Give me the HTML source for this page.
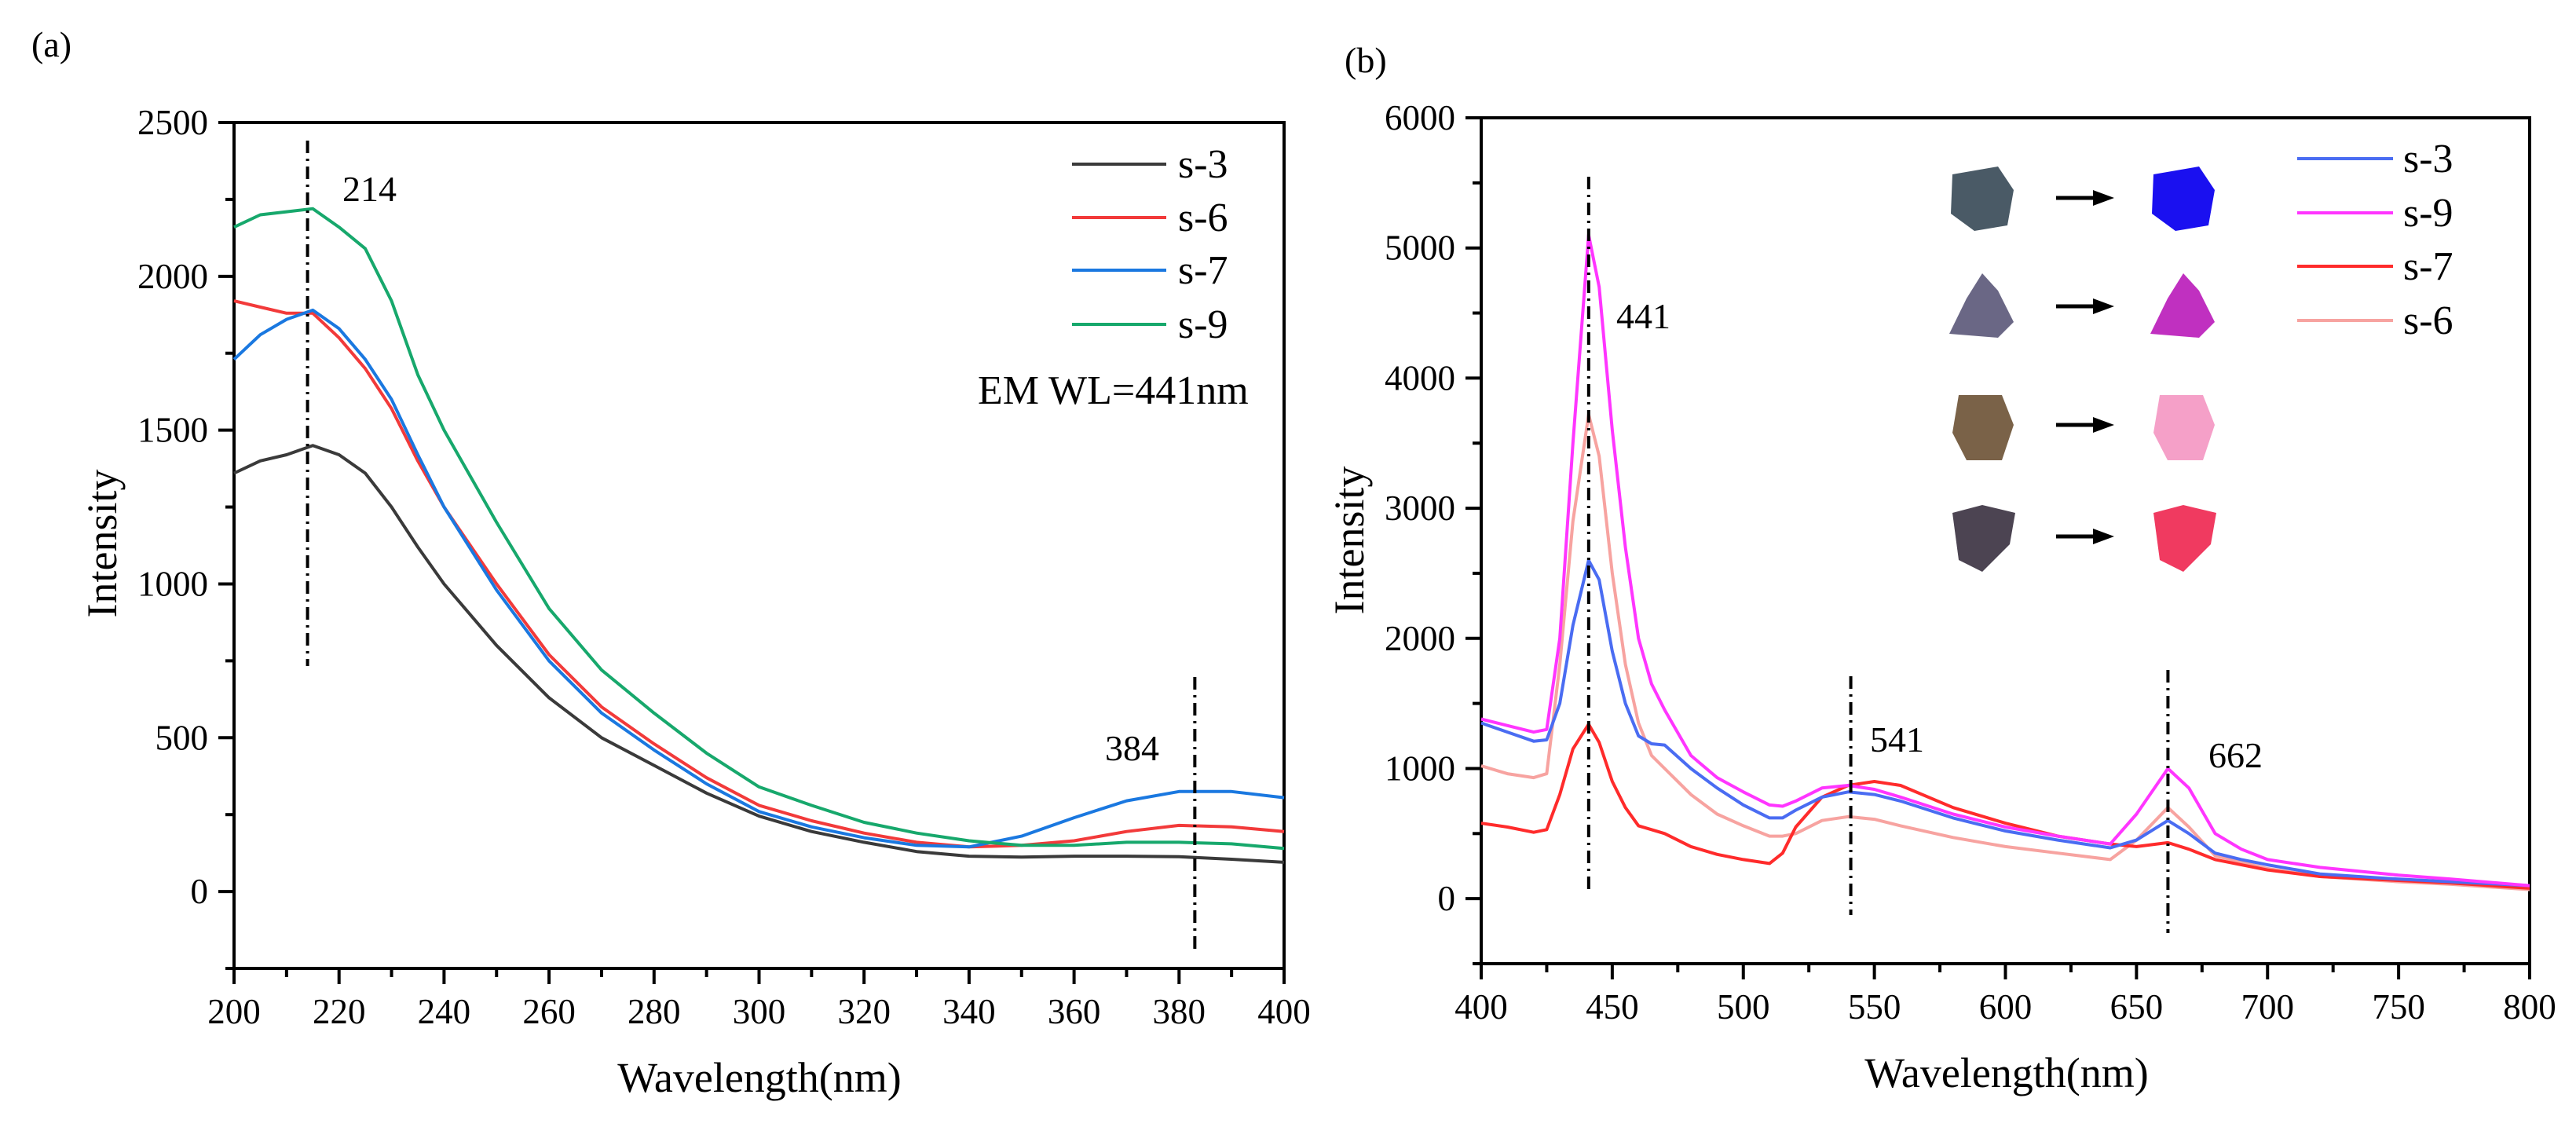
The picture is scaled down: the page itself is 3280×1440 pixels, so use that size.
<!DOCTYPE html>
<html><head><meta charset="utf-8"><style>
html,body{margin:0;padding:0;background:#fff;}
svg{display:block;font-family:"Liberation Serif",serif;}
</style></head><body>
<svg id="fig" width="3280" height="1440" viewBox="0 0 3280 1440" xmlns="http://www.w3.org/2000/svg">
<g id="pa"></g>
<g id="pb"></g>
</svg>
<script>
// Panel (a) data
const aWl = [200,205,210,215,220,225,230,235,240,250,260,270,280,290,300,310,320,330,340,350,360,370,380,390,400];
const aS3 = [1360,1400,1420,1450,1420,1360,1250,1120,1000,800,630,500,410,320,245,195,160,130,115,112,115,115,113,105,95];
const aS6 = [1920,1900,1880,1880,1800,1700,1570,1400,1250,1000,770,600,480,370,280,230,190,160,145,150,165,195,215,210,195];
const aS7 = [1730,1810,1860,1890,1830,1730,1600,1420,1250,980,750,580,460,350,260,210,175,150,145,180,240,295,325,325,305];
const aS9 = [2160,2200,2210,2220,2160,2090,1920,1680,1500,1200,920,720,580,450,340,280,225,190,165,150,150,160,160,155,140];
const aXTicks = [200,220,240,260,280,300,320,340,360,380,400];
const aYTicks = [0,500,1000,1500,2000,2500];
// Panel (b) data
const bWl = [400,410,420,425,430,435,441,445,450,455,460,465,470,480,490,500,510,515,520,530,540,550,560,580,600,620,640,650,662,670,680,690,700,720,750,770,800];
const bS3 = [1350,1280,1210,1220,1500,2100,2600,2450,1900,1500,1250,1190,1180,1000,850,720,620,620,680,780,820,800,750,620,520,450,390,450,600,500,350,300,260,190,150,130,100];
const bS9 = [1380,1330,1280,1300,2000,3500,5100,4700,3600,2700,2000,1650,1450,1100,930,820,720,710,750,850,870,840,780,650,550,480,420,650,1000,850,500,380,300,240,180,150,100];
const bS7 = [580,550,510,530,800,1150,1340,1200,900,700,560,530,500,400,340,300,270,350,550,780,870,900,870,700,580,480,420,400,430,380,300,260,220,170,140,120,80];
const bS6 = [1020,960,930,960,1800,2900,3720,3400,2500,1800,1350,1100,1000,800,650,560,480,480,500,600,630,610,560,470,400,350,300,450,700,550,330,280,230,170,130,110,70];
const bXTicks = [400,450,500,550,600,650,700,750,800];
const bYTicks = [0,1000,2000,3000,4000,5000,6000];

const NS='http://www.w3.org/2000/svg';
function mk(parent,tag,attrs,text){const e=document.createElementNS(NS,tag);for(const k in attrs)e.setAttribute(k,attrs[k]);if(text!==undefined)e.textContent=text;parent.appendChild(e);return e;}

function axes(g,L,R,T,B,x0,x1,y0,y1,xt,xminor,yt,yminor){
  const sx=v=>L+(v-x0)/(x1-x0)*(R-L);
  const sy=v=>B-(v-y0)/(y1-y0)*(B-T);
  const fr=mk(g,'rect',{x:L,y:T,width:R-L,height:B-T,fill:'none',stroke:'#000','stroke-width':4});
  
  
  for(let v=x0;v<=x1+1e-6;v+=xminor){
    const major=xt.includes(v);
    const t=mk(g,'line',{x1:sx(v),x2:sx(v),y1:B,y2:B+(major?20:11),stroke:'#000','stroke-width':4});
    
    
  }
  xt.forEach(v=>{
    const t=mk(g,'text',{x:sx(v),y:B+70,'font-size':45,'text-anchor':'middle'},String(v));
    
    
  });
  for(let v=y1;v>=y0-1e-6;v-=yminor){
    const major=yt.includes(v);
    const t=mk(g,'line',{x1:L,x2:L-(major?20:11),y1:sy(v),y2:sy(v),stroke:'#000','stroke-width':4});
    
    
  }
  yt.forEach(v=>{
    const t=mk(g,'text',{x:L-33,y:sy(v)+15,'font-size':45,'text-anchor':'end'},String(v));
    
    
  });
  return {sx,sy};
}
function series(g,s,xs,ys,color,name,w){
  const d=xs.map((x,i)=>(i?'L':'M')+s.sx(x).toFixed(1)+','+s.sy(ys[i]).toFixed(1)).join(' ');
  const p=mk(g,'path',{d:d,fill:'none',stroke:color,'stroke-width':w||4,'stroke-linejoin':'round'});
  
  
}
function vline(g,x,yTop,yBot,name){
  const l=mk(g,'line',{x1:x,x2:x,y1:yTop,y2:yBot,stroke:'#000','stroke-width':4,'stroke-dasharray':'16 7 3 7'});
  
  
}
function txt(g,x,y,s,size,name,anchor){
  const t=mk(g,'text',{x:x,y:y,'font-size':size,'text-anchor':anchor||'start'},s);
  
  
  return t;
}
function legend(g,x1,x2,tx,ys,cols,labels,size){
  labels.forEach((lb,i)=>{
    const l=mk(g,'line',{x1:x1,x2:x2,y1:ys[i],y2:ys[i],stroke:cols[i],'stroke-width':4});
    
    
    txt(g,tx,ys[i]+17,lb,size,'legend-label-'+lb);
  });
}

// ---- Panel a ----
const ga=document.getElementById('pa');
const A=axes(ga,298,1635,156,1233,200,400,-250,2500,aXTicks,10,aYTicks,250);
series(ga,A,aWl,aS3,'#3a3a3a','series-s-3');
series(ga,A,aWl,aS6,'#f23a3a','series-s-6');
series(ga,A,aWl,aS7,'#1a78e0','series-s-7');
series(ga,A,aWl,aS9,'#17a86c','series-s-9');
vline(ga,A.sx(214),179,848,'peak-line-214');
vline(ga,A.sx(383),862,1212,'peak-line-384');
txt(ga,436,256,'214',46,'peak-label-214');
txt(ga,1407,968,'384',46,'peak-label-384');
legend(ga,1365,1485,1500,[209,277,344,413],['#3a3a3a','#f23a3a','#1a78e0','#17a86c'],['s-3','s-6','s-7','s-9'],52);
txt(ga,1245,514,'EM WL=441nm',52,'excitation-note');
txt(ga,40,72,'(a)',46,'panel-a-label');
txt(ga,967,1390,'Wavelength(nm)',54,'x-axis-title-a','middle');
const ya=txt(ga,0,0,'Intensity',54,'y-axis-title-a','middle');
ya.setAttribute('transform','translate(148,692) rotate(-90)');

// ---- Panel b ----
const gb=document.getElementById('pb');
const B=axes(gb,1886,3221,150,1227,400,800,-500,6000,bXTicks,25,bYTicks,500);
series(gb,B,bWl,bS6,'#f7a3a0','series-s-6-b');
series(gb,B,bWl,bS7,'#ff2b2b','series-s-7-b');
series(gb,B,bWl,bS3,'#4a6cf2','series-s-3-b');
series(gb,B,bWl,bS9,'#ff35ff','series-s-9-b');
vline(gb,B.sx(441),225,1133,'peak-line-441');
vline(gb,B.sx(541),861,1165,'peak-line-541');
vline(gb,B.sx(662),853,1188,'peak-line-662');
txt(gb,2058,418,'441',46,'peak-label-441');
txt(gb,2381,957,'541',46,'peak-label-541');
txt(gb,2812,977,'662',46,'peak-label-662');
legend(gb,2925,3047,3060,[202,271,339,408],['#4a6cf2','#ff35ff','#ff2b2b','#f7a3a0'],['s-3','s-9','s-7','s-6'],52);
txt(gb,1712,92,'(b)',46,'panel-b-label');
txt(gb,2555,1384,'Wavelength(nm)',54,'x-axis-title-b','middle');
const yb=txt(gb,0,0,'Intensity',54,'y-axis-title-b','middle');
yb.setAttribute('transform','translate(1736,688) rotate(-90)');

// inset sample photos
const rowsY=[252,390,541,683];
const before=['#4a5a66','#6a6785','#7a6248','#4c4452'];
const after=['#1a10f0','#c030c0','#f5a0c8','#f03a60'];
const shapes=['M-38,-30 L20,-40 L40,-10 L32,35 L-10,42 L-40,20 Z','M-42,35 L-20,-10 L0,-42 L20,-20 L40,20 L20,40 Z','M-30,-38 L25,-38 L40,0 L25,45 L-20,45 L-38,10 Z','M-38,-30 L0,-40 L42,-30 L35,10 L0,45 L-30,30 Z'];
rowsY.forEach((y,i)=>{
  const a=mk(gb,'path',{d:shapes[i],fill:before[i],transform:'translate(2524,'+y+')'});
  
  
  const b=mk(gb,'path',{d:shapes[i],fill:after[i],transform:'translate(2780,'+y+')'});
  
  
  const l=mk(gb,'line',{x1:2618,x2:2670,y1:y,y2:y,stroke:'#000','stroke-width':5});
  
  
  const h=mk(gb,'path',{d:'M2665,'+(y-10)+' L2692,'+y+' L2665,'+(y+10)+' Z',fill:'#000'});
  
  
});
</script>
</body></html>
